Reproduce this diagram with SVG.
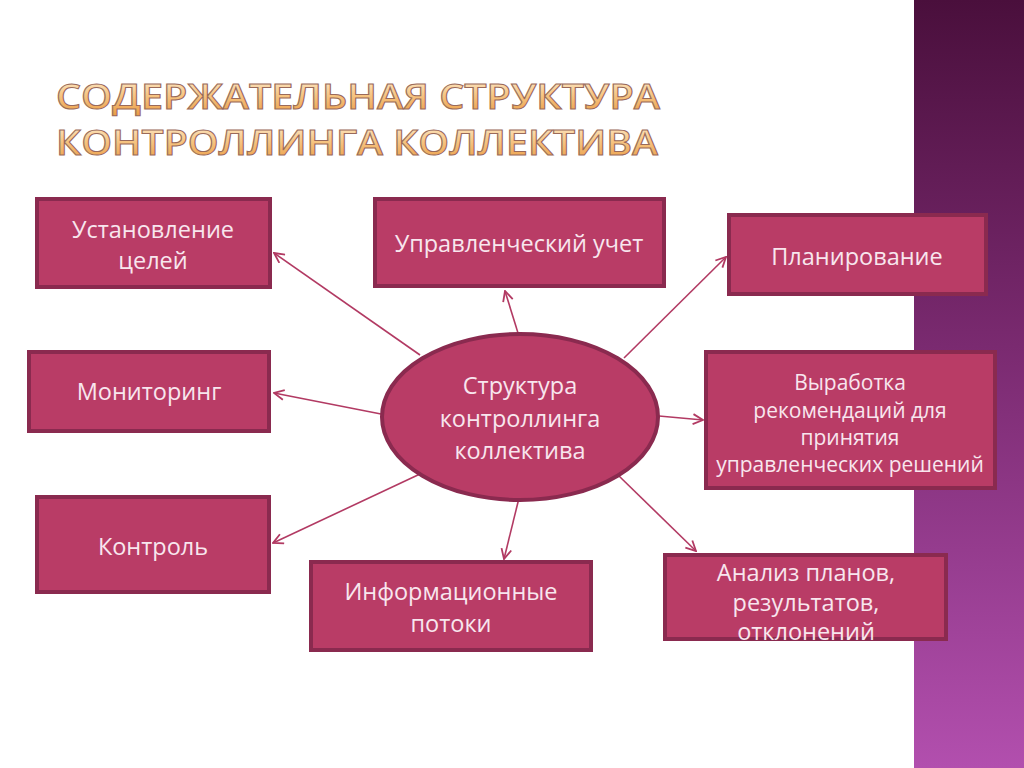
<svg xmlns="http://www.w3.org/2000/svg" width="1024" height="768" viewBox="0 0 1024 768">
<defs>
<linearGradient id="side" x1="0" y1="0" x2="0" y2="1">
<stop offset="0" stop-color="#4a0f3c"/>
<stop offset="0.45" stop-color="#7a2a70"/>
<stop offset="1" stop-color="#b24fae"/>
</linearGradient>
<linearGradient id="gold" x1="0" y1="0" x2="0" y2="1">
<stop offset="0" stop-color="#fff3df"/>
<stop offset="0.45" stop-color="#f7c888"/>
<stop offset="1" stop-color="#e8953a"/>
</linearGradient>
<marker id="arr" viewBox="0 0 12 12" refX="11" refY="6" markerWidth="12" markerHeight="12" markerUnits="userSpaceOnUse" orient="auto">
<path d="M1,1 L11,6 L1,11" fill="none" stroke="#b23a63" stroke-width="1.8"/>
</marker>
<style>
.box{fill:#b93c66;stroke:#8a2a4f;stroke-width:4}
.lbl{font-family:"Open Sans","Noto Sans",sans-serif;font-size:23.5px;fill:#f8e6ee;text-anchor:middle}
.sm{font-size:21px}
.con{stroke:#b23a63;stroke-width:1.6;fill:none;marker-end:url(#arr)}
.title{font-family:"Open Sans","Noto Sans",sans-serif;font-size:34px;font-weight:600;fill:url(#gold);stroke:#9a6a5a;stroke-width:1}
</style>
</defs>
<rect width="1024" height="768" fill="#ffffff"/>
<rect x="914" y="0" width="110" height="768" fill="url(#side)"/>
<g id="title">
<text class="title" x="56" y="109" textLength="604" lengthAdjust="spacingAndGlyphs">СОДЕРЖАТЕЛЬНАЯ СТРУКТУРА</text>
<text class="title" x="56" y="155" textLength="602" lengthAdjust="spacingAndGlyphs">КОНТРОЛЛИНГА  КОЛЛЕКТИВА</text>
</g>
<g id="connectors">
<line class="con" x1="420" y1="355" x2="274" y2="253"/>
<line class="con" x1="518" y1="333" x2="505" y2="291"/>
<line class="con" x1="624" y1="358" x2="726" y2="257"/>
<line class="con" x1="381" y1="414" x2="274" y2="393"/>
<line class="con" x1="659" y1="416" x2="703" y2="420"/>
<line class="con" x1="420" y1="474" x2="273" y2="543"/>
<line class="con" x1="519" y1="498" x2="504" y2="559"/>
<line class="con" x1="619" y1="476" x2="696" y2="551"/>
</g>
<g id="center">
<ellipse cx="520" cy="417" rx="138" ry="83" class="box"/>
<text class="lbl" x="520" y="394">Структура</text>
<text class="lbl" x="520" y="427">контроллинга</text>
<text class="lbl" x="520" y="459">коллектива</text>
</g>
<g id="n1">
<rect class="box" x="37" y="199" width="233" height="88"/>
<text class="lbl" x="153" y="238">Установление</text>
<text class="lbl" x="153" y="269">целей</text>
</g>
<g id="n2">
<rect class="box" x="375" y="199" width="289" height="87"/>
<text class="lbl" x="519" y="252">Управленческий учет</text>
</g>
<g id="n3">
<rect class="box" x="729" y="215" width="257" height="79"/>
<text class="lbl" x="857" y="265">Планирование</text>
</g>
<g id="n4">
<rect class="box" x="29" y="352" width="240" height="79"/>
<text class="lbl" x="149" y="400">Мониторинг</text>
</g>
<g id="n5">
<rect class="box" x="706" y="352" width="289" height="136"/>
<text class="lbl sm" x="850" y="390">Выработка</text>
<text class="lbl sm" x="850" y="418">рекомендаций для</text>
<text class="lbl sm" x="850" y="445">принятия</text>
<text class="lbl sm" x="850" y="472">управленческих решений</text>
</g>
<g id="n6">
<rect class="box" x="37" y="497" width="232" height="95"/>
<text class="lbl" x="153" y="555">Контроль</text>
</g>
<g id="n7">
<rect class="box" x="311" y="562" width="280" height="88"/>
<text class="lbl" x="451" y="600">Информационные</text>
<text class="lbl" x="451" y="632">потоки</text>
</g>
<g id="n8">
<rect class="box" x="665" y="555" width="281" height="84"/>
<text class="lbl" x="806" y="581">Анализ планов,</text>
<text class="lbl" x="806" y="611">результатов,</text>
<text class="lbl" x="806" y="640">отклонений</text>
</g>
</svg>
